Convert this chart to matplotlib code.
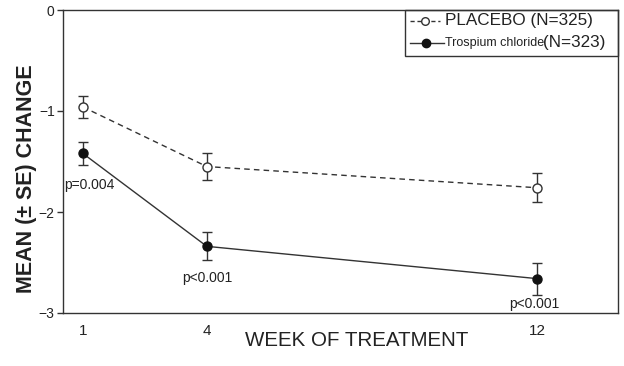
import matplotlib
matplotlib.use("Agg")
import matplotlib.pyplot as plt
from matplotlib.lines import Line2D
from matplotlib.patches import Rectangle

plt.rcParams['font.family'] = ['Liberation Sans', 'DejaVu Sans']

weeks = [1, 4, 12]
placebo_mean = [-0.96, -1.55, -1.76]
placebo_se = [0.11, 0.13, 0.145]
trospium_mean = [-1.42, -2.34, -2.66]
trospium_se = [0.11, 0.14, 0.16]
p_labels = ["p=0.004", "p<0.001", "p<0.001"]
y_ticks = [0, -1, -2, -3]
y_tick_labels = ["0", "\u22121", "\u22122", "\u22123"]
placebo_label = "PLACEBO (N=325)"
trospium_name = "Trospium chloride"
trospium_n = "(N=323)"

W, H = 624, 366
fig = plt.figure(figsize=(W / 100, H / 100), dpi=100)

def fx(px):
    return px / W

def fy(py):
    return 1 - py / H

ax = fig.add_axes([fx(63), fy(313), fx(618) - fx(63), fy(10) - fy(313)])
dark = "#333333"

ax.errorbar(weeks, placebo_mean, yerr=placebo_se, color=dark, ls=(0, (4, 3)),
            lw=1.0, marker='o', ms=6.5, mfc='white', mec=dark, mew=1.0,
            capsize=3.5, elinewidth=1.0, capthick=1.0, zorder=3)
ax.errorbar(weeks, trospium_mean, yerr=trospium_se, color=dark, ls='-',
            lw=1.0, marker='o', ms=6.5, mfc='#111111', mec='#111111',
            capsize=3.5, elinewidth=1.0, capthick=1.0, zorder=3)

ax.set_xlim(0.52, 13.95)
ax.set_ylim(-3, 0)
ax.set_xticks(weeks)
ax.set_xticklabels([str(w) for w in weeks], fontsize=11, color="#222222")
ax.set_yticks(y_ticks)
ax.set_yticklabels(y_tick_labels, fontsize=10, color="#222222")
ax.tick_params(axis='x', length=0, pad=8)
ax.tick_params(axis='y', length=4, width=1.0, color=dark, pad=2)
for s in ax.spines.values():
    s.set_color(dark)
    s.set_linewidth(1.0)

# p-value annotations below trospium points
offsets = [(5, -23), (0, -23), (-2, -18)]
for w, m, lab, off in zip(weeks, trospium_mean, p_labels, offsets):
    ax.annotate(lab, xy=(w, m), xytext=off, textcoords='offset points',
                ha='center', va='center', fontsize=10, color="#222222")

fig.text(fx(357), fy(341), "WEEK OF TREATMENT", ha='center', va='center',
         fontsize=14.8, color="#222222")
fig.text(fx(27), fy(179), "MEAN (\u00b1 SE) CHANGE", rotation=90, ha='center',
         va='center', fontsize=15.5, color="#222222", fontweight='semibold')

# Legend box drawn manually
fig.patches.append(Rectangle((fx(405), fy(56)), fx(618) - fx(405), fy(10) - fy(56),
                             transform=fig.transFigure, fill=False, ec=dark, lw=1.0))
fig.lines.append(Line2D([fx(410), fx(440)], [fy(21), fy(21)], transform=fig.transFigure,
                        color=dark, lw=1.0, ls=(0, (3, 2)), marker=None))
fig.lines.append(Line2D([fx(425)], [fy(21)], transform=fig.transFigure, color=dark,
                        marker='o', ms=5.5, mfc='white', mec=dark, mew=1.0))
fig.lines.append(Line2D([fx(410), fx(444)], [fy(43), fy(43)], transform=fig.transFigure,
                        color=dark, lw=1.0))
fig.lines.append(Line2D([fx(426)], [fy(43)], transform=fig.transFigure, color='#111111',
                        marker='o', ms=6, mfc='#111111', mec='#111111'))
fig.text(fx(445), fy(21), placebo_label, ha='left', va='center', fontsize=12.3, color="#222222")
fig.text(fx(445), fy(43), trospium_name, ha='left', va='center', fontsize=9, color="#222222")
fig.text(fx(543), fy(43), trospium_n, ha='left', va='center', fontsize=12.3, color="#222222")

fig.savefig("out.png", dpi=100, facecolor='white')
